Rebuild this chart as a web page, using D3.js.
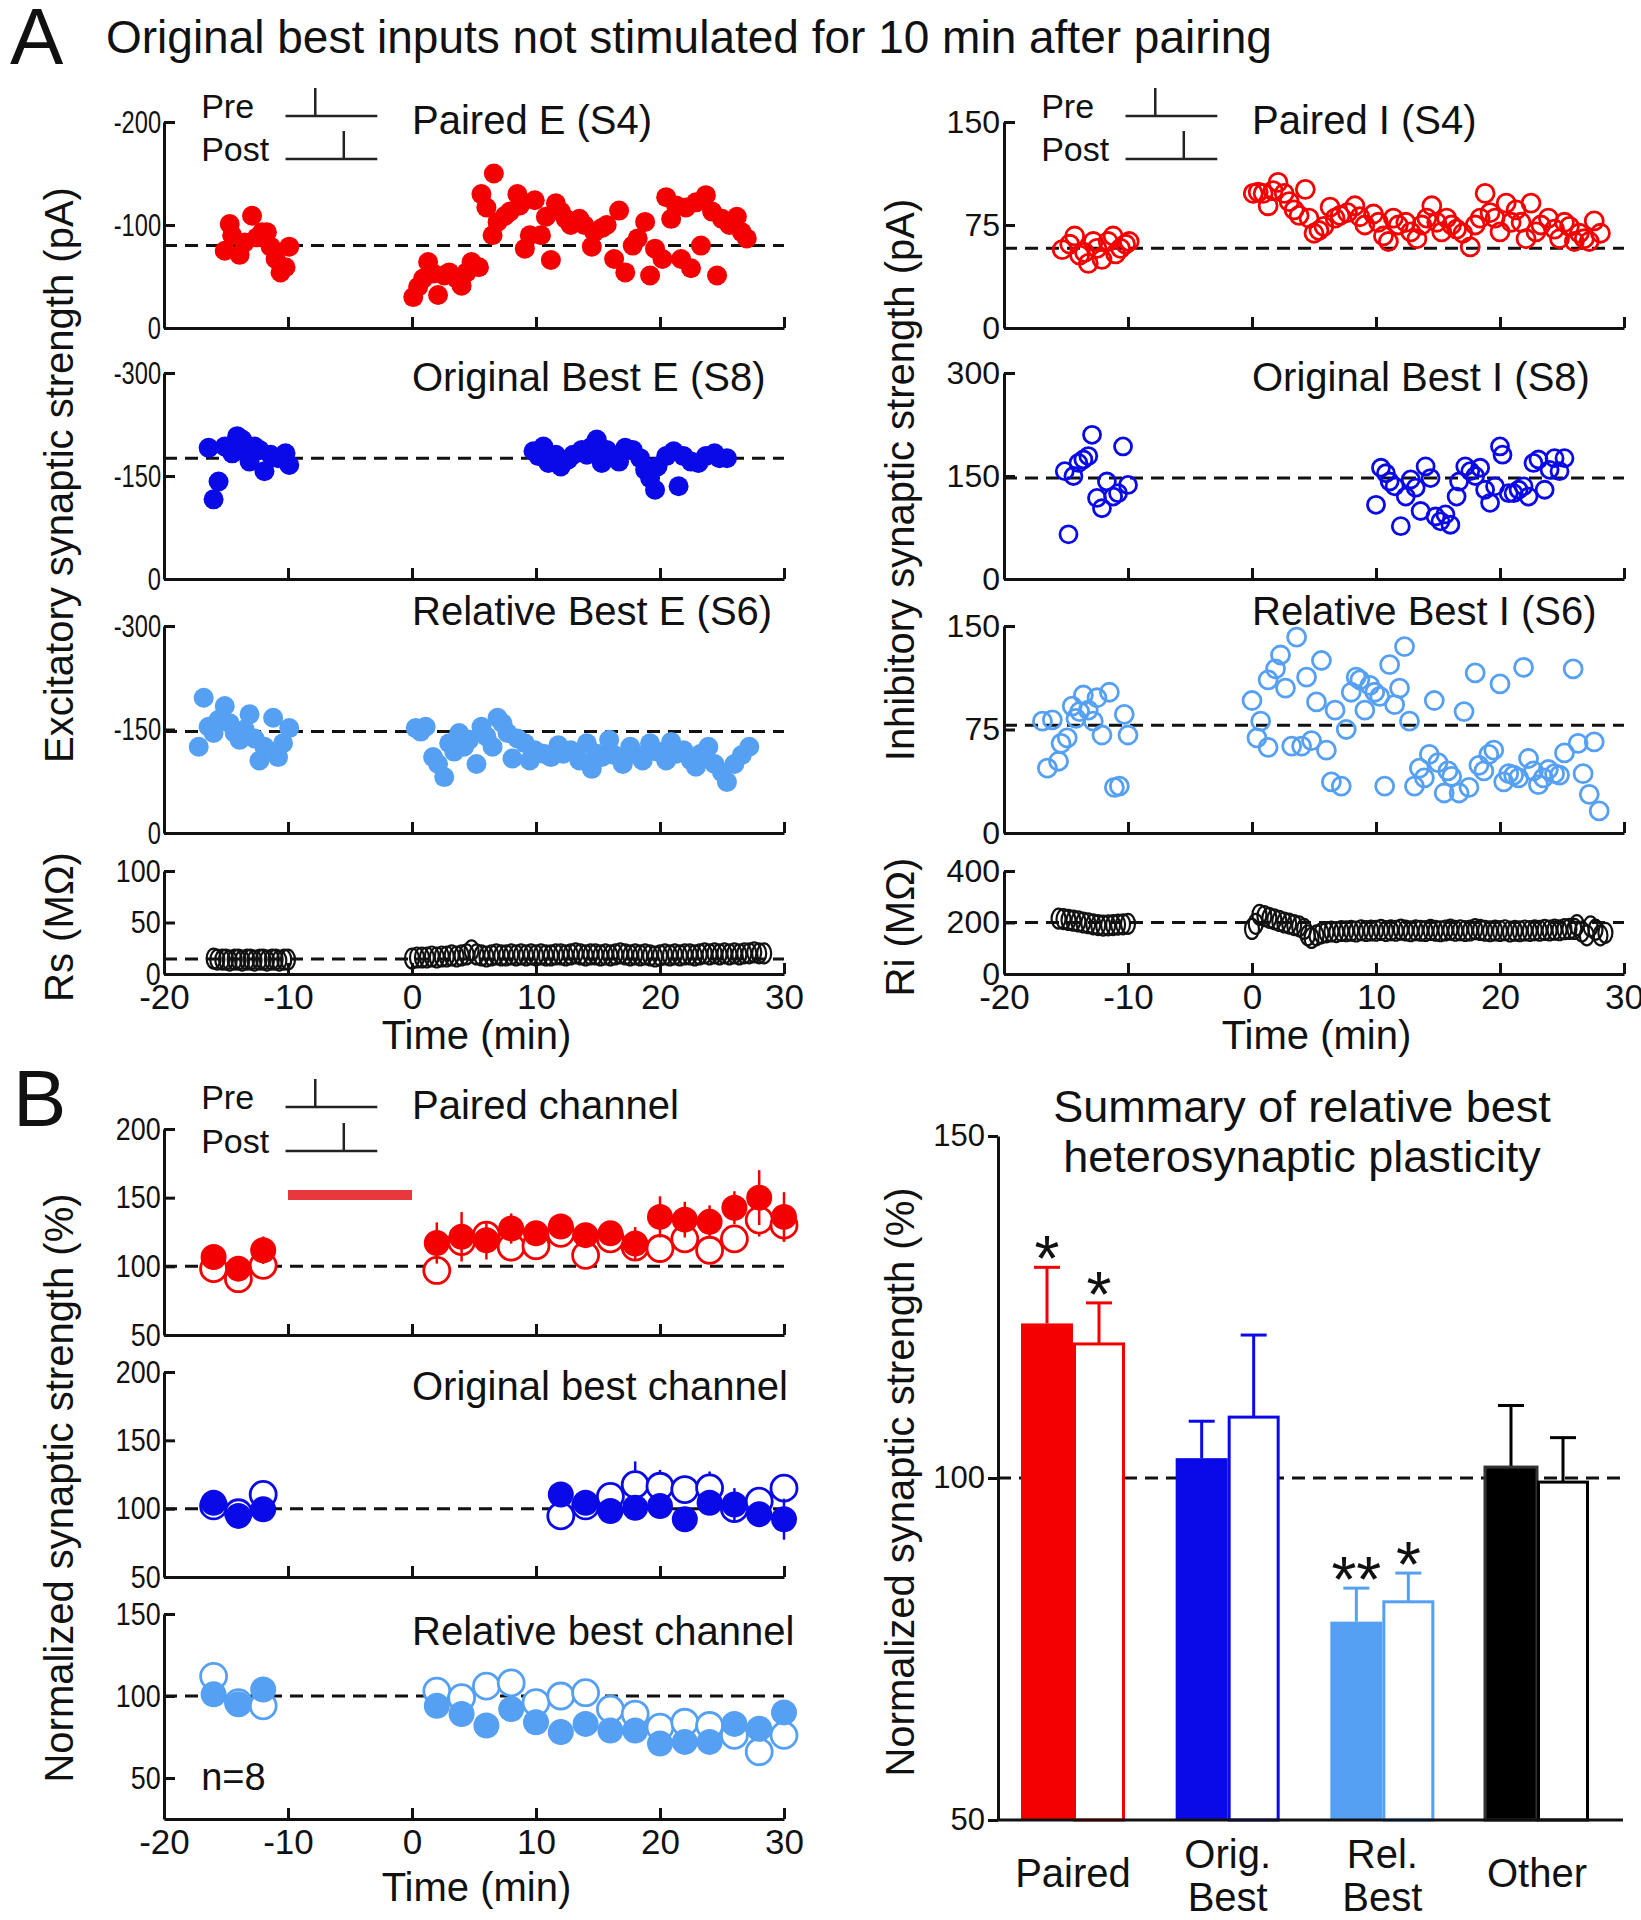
<!DOCTYPE html>
<html>
<head>
<meta charset="utf-8">
<script src="https://cdn.jsdelivr.net/npm/d3@7"></script>
<style>
body { margin: 0; background: #fff; }
svg { display: block; }
text { font-family: "Liberation Sans", Arial, sans-serif; fill: #111; }
</style>
</head>
<body>
<svg id="fig"></svg>
<script>
const width = 1641;
const height = 1920;

const RED = "#f40000";
const BLUE = "#0a0ae8";
const LIGHT = "#55a0f2";

// ---- panel A, left column: excitatory currents, [time (min), amplitude (pA)]
const pairedE = [[-15.1,75],[-14.7,101],[-14.5,90],[-13.9,71],[-13.5,83],[-12.9,109],[-12.5,88],[-12.1,93],
  [-11.7,93],[-11.4,79],[-11.0,67],[-10.6,54],[-10.2,59],[-9.9,79],
  [0.1,30],[0.5,40],[0.9,48],[1.3,64],[1.7,53],[2.1,32],[2.6,51],[3.0,54],[3.6,48],[4.0,41],[4.4,54],[4.8,64],
  [5.4,59],[5.6,130],[6.0,117],[6.6,150],[6.5,90],[6.9,103],[7.5,109],[7.9,113],[8.5,130],[8.7,119],[9.1,77],
  [9.5,90],[9.9,124],[10.4,90],[10.8,108],[11.2,66],[11.6,121],[12.0,113],[12.4,106],[12.8,100],[13.5,106],
  [13.9,100],[14.5,79],[14.7,93],[15.3,97],[15.7,100],[16.3,67],[16.7,114],[17.2,54],[17.8,80],[18.2,87],
  [18.8,103],[19.2,51],[19.6,77],[20.2,67],[20.5,127],[20.9,106],[21.3,119],[21.7,67],[22.1,117],[22.5,58],
  [22.9,122],[23.3,80],[23.7,129],[24.2,113],[24.6,51],[25.0,106],[25.6,100],[26.2,108],[26.6,93],[27.0,87]];

const origBestE = [[-16.4,191],[-16.0,116],[-15.6,142],[-15.1,193],[-14.5,183],[-14.1,208],[-13.7,203],[-13.3,183],
  [-13.1,171],[-12.7,193],[-12.3,188],[-11.9,157],[-11.4,181],[-10.8,176],[-10.2,183],[-9.9,166],
  [9.8,186],[10.2,179],[10.6,193],[11.0,169],[11.6,181],[12.0,164],[12.6,174],[13.0,181],[13.7,188],[14.1,181],
  [14.5,193],[14.9,203],[15.3,169],[15.7,188],[16.1,179],[16.7,171],[17.2,191],[17.8,188],[18.4,176],[18.8,159],
  [19.2,147],[19.6,130],[19.8,164],[20.5,179],[21.1,186],[21.5,135],[21.9,179],[22.5,171],[23.1,169],[23.7,179],
  [24.4,183],[24.8,176],[25.4,176]];

const relBestE = [[-17.2,125],[-16.8,196],[-16.4,154],[-16.0,145],[-15.6,164],[-15.1,184],[-14.7,159],[-14.3,145],
  [-13.9,135],[-13.5,150],[-13.1,172],[-12.7,137],[-12.3,105],[-11.9,125],[-11.2,167],[-10.8,110],[-10.4,130],[-9.9,152],
  [0.3,152],[0.7,147],[1.1,154],[1.7,110],[2.1,100],[2.6,81],[3.0,130],[3.4,118],[3.8,145],[4.2,125],[4.6,135],
  [5.2,100],[5.6,154],[6.0,140],[6.5,125],[6.9,167],[7.3,159],[7.7,145],[8.1,108],[8.5,137],[9.1,130],[9.5,105],
  [9.9,120],[10.6,115],[11.2,110],[11.8,127],[12.2,115],[12.8,120],[13.5,105],[14.1,130],[14.5,93],[14.9,115],
  [15.3,110],[15.9,135],[16.3,113],[17.0,100],[17.6,125],[18.0,115],[18.6,105],[19.2,130],[19.8,118],[20.5,105],
  [20.9,132],[21.3,115],[21.9,120],[22.5,105],[22.9,96],[23.3,115],[23.9,125],[24.4,100],[25.0,88],[25.4,74],
  [26.0,100],[26.6,113],[27.2,125]];

const rsTime = [-16.0,-15.7,-15.3,-15.0,-14.7,-14.3,-14.0,-13.7,-13.3,-13.0,-12.7,-12.3,-12.0,-11.7,-11.3,-11.0,-10.7,-10.3,-10.0,
  0,0.4,0.8,1.2,1.6,2,2.4,2.8,3.2,3.6,4,4.4,4.8,5.2,5.6,6,6.4,6.8,7.2,7.6,8,8.4,8.8,9.2,9.6,10,10.4,10.8,11.2,11.6,
  12,12.4,12.8,13.2,13.6,14,14.4,14.8,15.2,15.6,16,16.4,16.8,17.2,17.6,18,18.4,18.8,19.2,19.6,20,20.4,20.8,21.2,21.6,
  22,22.4,22.8,23.2,23.6,24,24.4,24.8,25.2,25.6,26,26.4,26.8,27.2,27.6,28,28.4];
const rsValue = [15,14,14,14,13,14,14,13,14,14,13,14,14,13,14,14,13,14,14,
  15,16,16,16,17,16,17,17,18,17,18,19,23,19,18,17,18,19,18,18,19,18,19,18,19,18,19,18,18,19,
  19,18,19,20,19,18,19,19,18,19,18,19,20,19,18,19,18,19,18,17,18,19,18,19,18,
  19,19,18,19,20,19,20,19,20,19,20,19,20,20,21,20,20];

// ---- panel A, right column: inhibitory currents
const pairedI = [[-15.3,57],[-14.7,61],[-14.3,67],[-13.9,53],[-13.5,55],[-13.2,47],[-12.8,63],[-12.5,58],[-12.1,50],
  [-11.6,63],[-11.2,67],[-11.0,54],[-10.6,58],[-10.2,61],[-9.9,63],
  [0.1,98],[0.5,99],[0.9,98],[1.3,89],[1.7,100],[2.1,106],[2.6,98],[3.0,92],[3.4,86],[3.8,82],[4.3,101],[4.6,80],
  [5.0,69],[5.4,71],[5.8,74],[6.3,88],[6.7,80],[7.1,82],[7.7,84],[8.3,89],[8.7,81],[9.1,75],[9.8,83],[10.2,77],
  [10.6,67],[11.0,63],[11.4,80],[11.8,75],[12.4,77],[12.8,70],[13.3,65],[13.7,75],[14.1,80],[14.5,89],[14.9,77],
  [15.3,70],[15.7,80],[16.1,75],[16.5,72],[17.0,69],[17.6,59],[18.0,75],[18.4,80],[18.8,98],[19.2,84],[19.6,80],
  [20.0,70],[20.5,91],[20.9,77],[21.3,86],[21.7,77],[22.1,65],[22.5,91],[22.9,70],[23.3,75],[23.9,80],[24.4,72],
  [24.8,65],[25.2,77],[25.6,74],[26.0,63],[26.4,69],[26.8,65],[27.2,63],[27.6,78],[28.1,69]];

const origBestI = [[-15.1,157],[-14.8,65],[-14.4,150],[-14.0,169],[-13.6,174],[-13.2,179],[-12.9,210],[-12.5,118],
  [-12.1,103],[-11.7,142],[-11.2,120],[-10.8,125],[-10.4,193],[-10.0,137],
  [10.0,108],[10.4,162],[10.8,154],[11.1,142],[11.5,135],[12.0,77],[12.4,120],[12.8,145],[13.2,133],[13.6,99],
  [14.0,164],[14.4,147],[14.8,91],[15.2,84],[15.6,94],[16.0,79],[16.5,120],[16.7,142],[17.2,164],[17.6,157],
  [18.0,150],[18.4,162],[18.8,130],[19.2,111],[19.6,135],[20.0,193],[20.2,181],[20.7,125],[21.1,125],[21.5,130],
  [21.9,135],[22.3,120],[22.7,169],[23.1,174],[23.6,130],[24.0,159],[24.4,176],[24.8,157],[25.2,176]];

const relBestI = [[-16.9,81],[-16.5,47],[-16.1,82],[-15.6,52],[-15.4,65],[-14.9,69],[-14.5,92],[-14.2,83],[-13.9,88],
  [-13.6,100],[-13.2,89],[-12.8,81],[-12.5,98],[-12.1,71],[-11.5,102],[-11.1,33],[-10.7,34],[-10.3,86],[-10.0,71],
  [0.0,96],[0.4,69],[0.7,81],[1.3,62],[1.3,111],[1.9,119],[2.3,129],[2.7,105],[3.2,63],[3.6,142],[4.0,63],[4.4,113],
  [4.8,67],[5.2,95],[5.6,125],[6.0,60],[6.4,37],[6.7,89],[7.2,34],[7.6,75],[8.0,102],[8.4,113],[8.7,111],[9.1,89],
  [9.5,107],[9.9,102],[10.3,99],[10.7,34],[11.1,122],[11.5,93],[11.9,105],[12.3,135],[12.7,81],[13.1,34],[13.5,47],
  [13.9,40],[14.3,57],[14.7,96],[15.0,51],[15.5,29],[15.8,45],[16.1,41],[16.7,29],[17.1,88],[17.5,33],[18.0,116],
  [18.3,49],[18.7,45],[19.1,57],[19.5,60],[20.0,108],[20.3,37],[20.7,43],[21.1,42],[21.5,40],[21.9,120],[22.3,54],
  [22.7,45],[23.1,35],[23.5,40],[23.9,46],[24.4,43],[24.8,42],[25.2,58],[25.9,119],[26.3,65],[26.7,43],[27.2,28],
  [27.6,66],[28.0,16]];

const riTime = [-15.6,-15.2,-14.8,-14.4,-14.0,-13.6,-13.2,-12.8,-12.4,-12.0,-11.6,-11.2,-10.8,-10.4,-10.0,
  0,0.3,0.6,1.0,1.4,1.8,2.2,2.6,3.0,3.4,3.8,4.2,4.5,4.8,5.2,5.6,6.0,6.4,6.8,7.2,7.6,8.0,8.4,8.8,9.2,9.6,
  10.0,10.4,10.8,11.2,11.6,12.0,12.4,12.8,13.2,13.6,14.0,14.4,14.8,15.2,15.6,16.0,16.4,16.8,17.2,17.6,
  18.0,18.4,18.8,19.2,19.6,20.0,20.4,20.8,21.2,21.6,22.0,22.4,22.8,23.2,23.6,24.0,24.4,24.8,25.2,25.6,
  26.0,26.2,26.6,27.0,27.3,27.7,28.1,28.5];
const riValue = [215,213,210,207,204,200,197,193,190,188,189,190,192,193,195,
  175,195,230,225,218,212,206,200,196,190,185,175,150,140,150,158,162,165,163,167,166,168,165,170,167,169,
  168,171,167,170,168,172,169,166,170,168,167,171,168,166,169,172,168,170,167,169,
  174,171,168,166,169,167,170,165,168,166,169,167,170,168,171,169,172,170,174,175,
  175,190,165,150,185,172,150,160];

// ---- panel B, left: normalized means (%) and SEM
const bTimeAll = [-16,-14,-12,2,4,6,8,10,12,14,16,18,20,22,24,26,28,30];
const bTimeOrig = [-16,-14,-12,12,14,16,18,20,22,24,26,28,30];
const pairedFilled = [106.8,98.3,111.7,117,121.5,119,127.5,124,129,122.7,124,116.6,136,134,132.4,142.7,150,136];
const pairedFilledErr = [5,4,10,15,18,14,11,8,8,6,8,12,15,13,12,12,20,18];
const pairedOpen = [98.3,91,100.7,97,118,122.7,114,115,124,108,120,114,113,120,111.7,120,133.7,130];
const pairedOpenErr = [5,5,5,8,10,10,8,8,8,8,8,10,10,10,10,10,12,12];
const origFilled = [104.3,94.7,99.5,110.4,104.3,98.3,100.7,102,92.3,104.3,103,96,92.3];
const origFilledErr = [5,5,5,6,6,6,6,6,6,6,12,8,15];
const origOpen = [102,97,110.4,94.7,102,109,117.6,116.4,114,115.2,100,105.5,115];
const origOpenErr = [5,5,6,6,6,8,17,12,10,12,8,8,9];
const relFilled = [101,95,104,94,89,82,92,84,78,83,79,79,71,72,72,83,80,90];
const relFilledErr = [3,3,4,3,3,3,4,4,3,3,3,3,3,3,3,4,5,4];
const relOpen = [112,96,94,103,99,106,108,96,100,102,92,89,81,84,82,76,66,76];
const relOpenErr = [4,3,4,4,4,4,6,5,4,4,4,4,4,4,4,4,6,5];

// ---- panel B, right: summary bars
const barCategories = ["Paired", "Orig. Best", "Rel. Best", "Other"];
const barFilled = [122.6, 102.9, 79.0, 101.6];
const barFilledErr = [8.2, 5.4, 4.9, 9.0];
const barOpen = [119.6, 108.9, 81.9, 99.4];
const barOpenErr = [6.0, 12.0, 4.2, 6.5];
const barStarsFilled = ["*", "", "**", ""];
const barStarsOpen = ["*", "", "*", ""];
const barColors = [RED, BLUE, LIGHT, "#000"];

const svg = d3.select("#fig").attr("width", width).attr("height", height);
svg.append("rect").attr("width", width).attr("height", height).attr("fill", "#fff");

const xL = d3.scaleLinear().domain([-20, 30]).range([164, 784]);
const xR = d3.scaleLinear().domain([-20, 30]).range([1004, 1624]);

function styleAxis(g, size, squeeze) {
  g.selectAll("path, line").attr("stroke", "#111").attr("stroke-width", 3);
  g.selectAll("text").attr("font-size", size).attr("fill", "#111")
    .attr("font-family", "Liberation Sans, Arial, sans-serif");
  if (squeeze) g.selectAll(".tick text").attr("transform", `scale(${squeeze},1)`);
}

function panel(o) {
  const x = o.x;
  const y = d3.scaleLinear().domain(o.domain).range([o.bottom, o.top]);
  const g = svg.append("g");

  // baseline
  g.append("line")
    .attr("x1", x(-20)).attr("x2", x(30))
    .attr("y1", y(o.base)).attr("y2", y(o.base))
    .attr("stroke", "#111").attr("stroke-width", 3)
    .attr("stroke-dasharray", "13,8");

  o.draw(g, x, y);

  const yAxis = g.append("g")
    .attr("transform", `translate(${x(-20)},0)`)
    .call(d3.axisLeft(y).tickValues(o.ticks).tickSizeInner(-11).tickSizeOuter(0).tickPadding(4)
      .tickFormat(o.fmt || (d => d)));
  styleAxis(yAxis, 32, x === xL ? (o.fmt ? 0.74 : 0.84) : null);

  const xAxis = g.append("g")
    .attr("transform", `translate(0,${o.bottom})`)
    .call(d3.axisBottom(x).tickValues(o.xLabels ? [-20, -10, 0, 10, 20, 30] : [-10, 0, 10, 20, 30])
      .tickSizeInner(-11).tickSizeOuter(0).tickPadding(10)
      .tickFormat(o.xLabels ? (d => d) : () => ""));
  styleAxis(xAxis, 35);

  if (o.title) {
    g.append("text").attr("x", x(o.titleAt)).attr("y", o.titleY)
      .attr("font-size", 40).text(o.title);
  }
  return y;
}

function dots(data, filled, color, r) {
  return (g, x, y) => {
    g.append("g").selectAll("circle").data(data).join("circle")
      .attr("cx", d => x(d[0])).attr("cy", d => y(d[1])).attr("r", r)
      .attr("fill", filled ? color : "none")
      .attr("stroke", color).attr("stroke-width", filled ? 0 : 2.8);
  };
}

function rings(times, values) {
  return (g, x, y) => {
    g.append("g").selectAll("ellipse").data(d3.zip(times, values)).join("ellipse")
      .attr("cx", d => x(d[0])).attr("cy", d => y(d[1])).attr("rx", 7).attr("ry", 10)
      .attr("fill", "none").attr("stroke", "#111").attr("stroke-width", 2.2);
  };
}

function means(times, filled, filledErr, open, openErr, color) {
  return (g, x, y) => {
    const series = [
      {v: open, e: openErr, fill: "#fff"},
      {v: filled, e: filledErr, fill: color}
    ];
    series.forEach(s => {
      const pts = times.map((t, i) => ({t, v: s.v[i], e: s.e[i]}));
      const sg = g.append("g");
      sg.selectAll("line").data(pts).join("line")
        .attr("x1", d => x(d.t)).attr("x2", d => x(d.t))
        .attr("y1", d => y(d.v - d.e)).attr("y2", d => y(d.v + d.e))
        .attr("stroke", color).attr("stroke-width", 2.5);
      sg.selectAll("circle").data(pts).join("circle")
        .attr("cx", d => x(d.t)).attr("cy", d => y(d.v)).attr("r", 13)
        .attr("fill", s.fill).attr("stroke", color).attr("stroke-width", s.fill === "#fff" ? 2.8 : 0);
    });
  };
}

const neg = d => d === 0 ? "0" : "-" + d;

// ---------- Panel A left
panel({x: xL, domain: [0, 200], top: 122, bottom: 328, ticks: [0, 100, 200], fmt: neg, base: 80,
  draw: dots(pairedE, true, RED, 10), title: "Paired E (S4)", titleAt: 0, titleY: 134});
panel({x: xL, domain: [0, 300], top: 373, bottom: 579, ticks: [0, 150, 300], fmt: neg, base: 176,
  draw: dots(origBestE, true, BLUE, 10), title: "Original Best E (S8)", titleAt: 0, titleY: 391});
panel({x: xL, domain: [0, 300], top: 626, bottom: 833, ticks: [0, 150, 300], fmt: neg, base: 147,
  draw: dots(relBestE, true, LIGHT, 10), title: "Relative Best E (S6)", titleAt: 0, titleY: 625});
panel({x: xL, domain: [0, 100], top: 871, bottom: 974, ticks: [0, 50, 100], base: 14.5,
  draw: rings(rsTime, rsValue), xLabels: true});

// ---------- Panel A right
panel({x: xR, domain: [0, 150], top: 122, bottom: 328, ticks: [0, 75, 150], base: 58,
  draw: dots(pairedI, false, RED, 9), title: "Paired I (S4)", titleAt: 0, titleY: 134});
panel({x: xR, domain: [0, 300], top: 373, bottom: 579, ticks: [0, 150, 300], base: 147,
  draw: dots(origBestI, false, BLUE, 8.5), title: "Original Best I (S8)", titleAt: 0, titleY: 391});
panel({x: xR, domain: [0, 150], top: 626, bottom: 833, ticks: [0, 75, 150], base: 78,
  draw: dots(relBestI, false, LIGHT, 9), title: "Relative Best I (S6)", titleAt: 0, titleY: 625});
panel({x: xR, domain: [0, 400], top: 871, bottom: 974, ticks: [0, 200, 400], base: 200,
  draw: rings(riTime, riValue), xLabels: true});

// ---------- Panel B left
const yB1 = panel({x: xL, domain: [50, 200], top: 1129, bottom: 1335, ticks: [50, 100, 150, 200], base: 100,
  draw: means(bTimeAll, pairedFilled, pairedFilledErr, pairedOpen, pairedOpenErr, RED),
  title: "Paired channel", titleAt: 0, titleY: 1119});
panel({x: xL, domain: [50, 200], top: 1372, bottom: 1577, ticks: [50, 100, 150, 200], base: 100,
  draw: means(bTimeOrig, origFilled, origFilledErr, origOpen, origOpenErr, BLUE),
  title: "Original best channel", titleAt: 0, titleY: 1400});
panel({x: xL, domain: [25, 150], top: 1614, bottom: 1819, ticks: [50, 100, 150], base: 100,
  draw: means(bTimeAll, relFilled, relFilledErr, relOpen, relOpenErr, LIGHT),
  title: "Relative best channel", titleAt: 0, titleY: 1645, xLabels: true});

// pairing period bar
svg.append("line").attr("x1", xL(-10)).attr("x2", xL(0)).attr("y1", yB1(152)).attr("y2", yB1(152))
  .attr("stroke", "#e8383d").attr("stroke-width", 10);

// Pre / Post inset
function inset(x, yPre, yPost) {
  const g = svg.append("g");
  g.append("text").attr("x", x(-17))
    .attr("y", yPre + 2).attr("font-size", 34).text("Pre");
  g.append("text").attr("x", x(-17))
    .attr("y", yPost + 2).attr("font-size", 34).text("Post");
  [[yPre, -7.8], [yPost, -5.5]].forEach(([yy, spike]) => {
    g.append("line").attr("x1", x(-10.2)).attr("x2", x(-2.8)).attr("y1", yy).attr("y2", yy)
      .attr("stroke", "#222").attr("stroke-width", 2.5);
    g.append("line").attr("x1", x(spike)).attr("x2", x(spike)).attr("y1", yy).attr("y2", yy - 28)
      .attr("stroke", "#222").attr("stroke-width", 2.5);
  });
}
inset(xL, 116, 159);
inset(xR, 116, 159);
inset(xL, 1107, 1151);

// axis titles
function vlabel(x, y, txt) {
  svg.append("text").attr("transform", `translate(${x},${y}) rotate(-90)`)
    .attr("text-anchor", "middle").attr("dominant-baseline", "central")
    .attr("font-size", 40).text(txt);
}
vlabel(59, 475, "Excitatory synaptic strength (pA)");
vlabel(59, 927, "Rs (M\u03a9)");
vlabel(900, 480, "Inhibitory synaptic strength (pA)");
vlabel(900, 927, "Ri (M\u03a9)");
vlabel(59, 1488, "Normalized synaptic strength (%)");
vlabel(900, 1482, "Normalized synaptic strength (%)");

svg.append("text").attr("x", xL(5.2)).attr("y", 1049).attr("text-anchor", "middle").attr("font-size", 40).text("Time (min)");
svg.append("text").attr("x", xR(5.2)).attr("y", 1049).attr("text-anchor", "middle").attr("font-size", 40).text("Time (min)");
svg.append("text").attr("x", xL(5.2)).attr("y", 1901).attr("text-anchor", "middle").attr("font-size", 40).text("Time (min)");
svg.append("text").attr("x", xL(-17)).attr("y", 1790).attr("font-size", 38).text("n=8");

svg.append("text").attr("x", 10).attr("y", 64).attr("font-size", 80).text("A");
svg.append("text").attr("x", 13).attr("y", 1126).attr("font-size", 80).text("B");
svg.append("text").attr("x", 106).attr("y", 53).attr("font-size", 46)
  .text("Original best inputs not stimulated for 10 min after pairing");

// ---------- Summary bars
const yBar = d3.scaleLinear().domain([50, 150]).range([1820, 1136]);
const xBar = d3.scalePoint().domain(barCategories).range([1073, 1537]);
const bw = 52;
const gb = svg.append("g");

gb.append("line").attr("x1", 998).attr("x2", 1623).attr("y1", yBar(100)).attr("y2", yBar(100))
  .attr("stroke", "#111").attr("stroke-width", 3).attr("stroke-dasharray", "13,8");

barCategories.forEach((c, i) => {
  const cx = xBar(c);
  const col = barColors[i];
  const sets = [
    {x0: cx - bw, v: barFilled[i], e: barFilledErr[i], fill: col, star: barStarsFilled[i]},
    {x0: cx, v: barOpen[i], e: barOpenErr[i], fill: "#fff", star: barStarsOpen[i]}
  ];
  sets.forEach(s => {
    gb.append("line").attr("x1", s.x0 + bw / 2).attr("x2", s.x0 + bw / 2)
      .attr("y1", yBar(s.v)).attr("y2", yBar(s.v + s.e)).attr("stroke", col).attr("stroke-width", 3);
    gb.append("line").attr("x1", s.x0 + bw / 2 - 13).attr("x2", s.x0 + bw / 2 + 13)
      .attr("y1", yBar(s.v + s.e)).attr("y2", yBar(s.v + s.e)).attr("stroke", col).attr("stroke-width", 3);
    gb.append("rect").attr("x", s.x0 + (s.fill === "#fff" ? 1.5 : 0)).attr("width", bw - (s.fill === "#fff" ? 3 : 0))
      .attr("y", yBar(s.v)).attr("height", yBar(50) - yBar(s.v))
      .attr("fill", s.fill).attr("stroke", s.fill === "#fff" ? col : (i === 3 ? "#333" : "none"))
      .attr("stroke-width", 3);
    if (s.star) {
      gb.append("text").attr("x", s.x0 + bw / 2).attr("y", yBar(s.v + s.e) + 14)
        .attr("text-anchor", "middle").attr("font-size", 64).attr("fill", "#333").text(s.star);
    }
  });
});

const ba = gb.append("g").attr("transform", "translate(998,0)")
  .call(d3.axisLeft(yBar).tickValues([50, 100, 150]).tickSizeInner(10).tickSizeOuter(0).tickPadding(3));
styleAxis(ba, 31);
gb.append("line").attr("x1", 998).attr("x2", 1623).attr("y1", yBar(50)).attr("y2", yBar(50))
  .attr("stroke", "#111").attr("stroke-width", 3);

const catLines = barCategories.map(c => c === "Paired" || c === "Other" ? [c] : c.split(" "));
catLines.forEach((lines, i) => {
  const t = gb.append("text").attr("text-anchor", "middle").attr("font-size", 40);
  lines.forEach((ln, j) => {
    t.append("tspan").attr("x", xBar(barCategories[i]))
      .attr("y", lines.length === 1 ? 1887 : 1868 + j * 43).text(ln);
  });
});

gb.append("text").attr("x", 1302).attr("y", 1122).attr("text-anchor", "middle").attr("font-size", 45)
  .text("Summary of relative best");
gb.append("text").attr("x", 1302).attr("y", 1172).attr("text-anchor", "middle").attr("font-size", 45)
  .text("heterosynaptic plasticity");
</script>
</body>
</html>
